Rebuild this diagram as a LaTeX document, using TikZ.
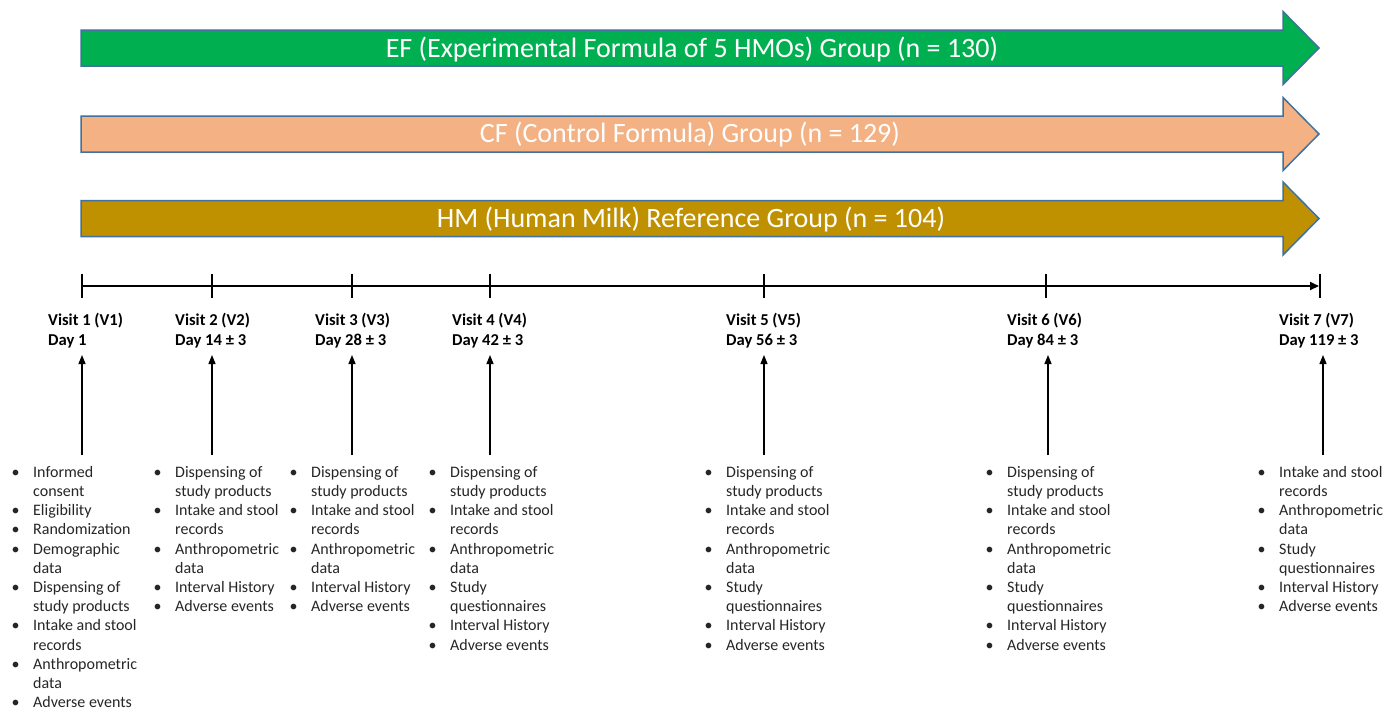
\documentclass[tikz,border=0pt]{standalone}
\usepackage{fontspec}
\setmainfont{Carlito}
\usetikzlibrary{arrows.meta}
\definecolor{efgreen}{HTML}{00B050}
\definecolor{cfpeach}{HTML}{F4B183}
\definecolor{hmgold}{HTML}{BF9000}
\definecolor{arrowedge}{HTML}{41719C}
\definecolor{listtext}{HTML}{262626}
\newcommand{\bu}{\makebox[23pt][l]{\hspace{1.5pt}\textbullet}}
\newcommand{\ct}{\makebox[23pt]{}}
\tikzset{
  grouparrow/.style={draw=arrowedge, line width=1.5pt, line join=miter},
  grouptitle/.style={font=\fontsize{28}{33}\selectfont, text=white, inner sep=0},
  visitlabel/.style={font=\bfseries\fontsize{16.6}{20}\selectfont, align=left, anchor=north west, inner sep=0},
  itemlist/.style={font=\fontsize{16}{19.2}\selectfont, text=listtext, align=left, anchor=north west, inner sep=0},
  timeline/.style={line width=1.8pt, -{Triangle[width=8pt,length=9pt]}},
  tickmark/.style={line width=1.8pt},
  uparrow/.style={line width=1.3pt, -{Triangle[width=7pt,length=9pt]}},
}
\begin{document}
\begin{tikzpicture}[x=1pt,y=-1pt]
\useasboundingbox[fill=white] (0,0) rectangle (1400,713);

% group arrows
\fill[efgreen, grouparrow] (81,30) -- (1283,30) -- (1283,11.5) -- (1319,48) -- (1283,84.5) -- (1283,66) -- (81,66) -- cycle;
\fill[cfpeach, grouparrow] (81,116) -- (1283,116) -- (1283,97.5) -- (1319,134) -- (1283,170.5) -- (1283,152) -- (81,152) -- cycle;
\fill[hmgold, grouparrow] (81,200.5) -- (1283,200.5) -- (1283,182) -- (1319,218.5) -- (1283,255) -- (1283,236.5) -- (81,236.5) -- cycle;
\node[grouptitle] (ef) at (692,49.5) {EF (Experimental Formula of 5 HMOs) Group (n = 130)};
\node[grouptitle] (cf) at (690,135) {CF (Control Formula) Group (n = 129)};
\node[grouptitle] (hm) at (691,219.5) {HM (Human Milk) Reference Group (n = 104)};

% timeline
\coordinate (t1) at (82,286);
\coordinate (t2) at (212,286);
\coordinate (t3) at (352,286);
\coordinate (t4) at (490,286);
\coordinate (t5) at (764,286);
\coordinate (t6) at (1046,286);
\coordinate (t7) at (1320,286);
\draw[timeline] (t1) -- ([xshift=-1pt]t7);
\foreach \t in {t1,t2,t3,t4,t5,t6,t7}
  \draw[tickmark] ([yshift=12pt]\t) -- ([yshift=-12pt]\t);

% visit labels
\node[visitlabel] (v1) at (48,311) {\strut Visit 1 (V1)\\Day 1};
\node[visitlabel] (v2) at (175,311) {\strut Visit 2 (V2)\\Day 14 ± 3};
\node[visitlabel] (v3) at (315,311) {\strut Visit 3 (V3)\\Day 28 ± 3};
\node[visitlabel] (v4) at (452,311) {\strut Visit 4 (V4)\\Day 42 ± 3};
\node[visitlabel] (v5) at (726,311) {\strut Visit 5 (V5)\\Day 56 ± 3};
\node[visitlabel] (v6) at (1007,311) {\strut Visit 6 (V6)\\Day 84 ± 3};
\node[visitlabel] (v7) at (1279,311) {\strut Visit 7 (V7)\\Day 119 ± 3};

% lists
\node[itemlist] (l1) at (10,463.6) {\strut\bu Informed\\\ct consent\\\bu Eligibility\\\bu Randomization\\\bu Demographic\\\ct data\\\bu Dispensing of\\\ct study products\\\bu Intake and stool\\\ct records\\\bu Anthropometric\\\ct data\\\bu Adverse events};
\node[itemlist] (l2) at (152,463.6) {\strut\bu Dispensing of\\\ct study products\\\bu Intake and stool\\\ct records\\\bu Anthropometric\\\ct data\\\bu Interval History\\\bu Adverse events};
\node[itemlist] (l3) at (288,463.6) {\strut\bu Dispensing of\\\ct study products\\\bu Intake and stool\\\ct records\\\bu Anthropometric\\\ct data\\\bu Interval History\\\bu Adverse events};
\node[itemlist] (l4) at (427,463.6) {\strut\bu Dispensing of\\\ct study products\\\bu Intake and stool\\\ct records\\\bu Anthropometric\\\ct data\\\bu Study\\\ct questionnaires\\\bu Interval History\\\bu Adverse events};
\node[itemlist] (l5) at (703,463.6) {\strut\bu Dispensing of\\\ct study products\\\bu Intake and stool\\\ct records\\\bu Anthropometric\\\ct data\\\bu Study\\\ct questionnaires\\\bu Interval History\\\bu Adverse events};
\node[itemlist] (l6) at (984,463.6) {\strut\bu Dispensing of\\\ct study products\\\bu Intake and stool\\\ct records\\\bu Anthropometric\\\ct data\\\bu Study\\\ct questionnaires\\\bu Interval History\\\bu Adverse events};
\node[itemlist] (l7) at (1256,463.6) {\strut\bu Intake and stool\\\ct records\\\bu Anthropometric\\\ct data\\\bu Study\\\ct questionnaires\\\bu Interval History\\\bu Adverse events};

% vertical arrows from lists to visits
\foreach \i/\x in {1/82,2/212,3/352,4/490,5/764,6/1048,7/1323} {
  \coordinate (s\i) at (\x,455);
  \coordinate (e\i) at (\x,355);
  \draw[uparrow] (s\i) -- (e\i);
}
\end{tikzpicture}
\end{document}
